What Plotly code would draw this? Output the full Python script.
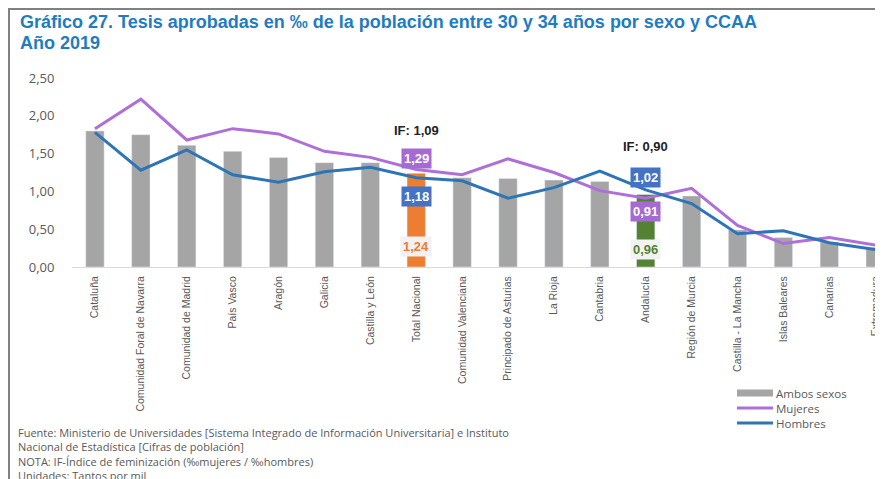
import plotly.graph_objects as go

regiones = [
    "Cataluña", "Comunidad Foral de Navarra", "Comunidad de Madrid", "País Vasco",
    "Aragón", "Galicia", "Castilla y León", "Total Nacional", "Comunidad Valenciana",
    "Principado de Asturias", "La Rioja", "Cantabria", "Andalucía", "Región de Murcia",
    "Castilla - La Mancha", "Islas Baleares", "Canarias", "Extremadura",
]
ambos = [1.80, 1.75, 1.61, 1.53, 1.45, 1.38, 1.38, 1.24, 1.18,
         1.17, 1.15, 1.13, 0.96, 0.94, 0.49, 0.39, 0.33, 0.26]
mujeres = [1.83, 2.22, 1.68, 1.83, 1.76, 1.53, 1.45, 1.29, 1.22,
           1.43, 1.25, 1.01, 0.91, 1.04, 0.55, 0.31, 0.39, 0.29]
hombres = [1.78, 1.28, 1.55, 1.22, 1.12, 1.26, 1.32, 1.18, 1.14,
           0.91, 1.05, 1.27, 1.02, 0.84, 0.44, 0.48, 0.32, 0.23]
# feminisation index shown over the highlighted bars
if_total = "IF: 1,09"
if_andalucia = "IF: 0,90"
notas = [
    "Fuente: Ministerio de Universidades [Sistema Integrado de Información Universitaria] e Instituto",
    "Nacional de Estadística [Cifras de población]",
    "NOTA: IF-Índice de feminización (‰mujeres / ‰hombres)",
    "Unidades: Tantos por mil",
]

GRAY = "#A5A5A5"
ORANGE = "#ED7D31"
GREEN = "#548235"
PURPLE = "#AE6FD8"
PURPLE_BOX = "#A66BD3"
BLUE = "#2E75B6"
BLUE_BOX = "#4472C4"
TEXT = "#595959"
TITLE = "#1F7CC1"
FONT = "Liberation Sans, Arial, sans-serif"
SOFT = "Open Sans, Liberation Sans, sans-serif"
NARROW = "Liberation Sans Narrow, Arial Narrow, sans-serif"

# the page adds an 8px body margin, so the figure is drawn 8px smaller and
# every layout position below is given in page pixels and shifted back
OFF = 8
W, H = 883 - OFF, 479 - OFF
PL, PR, PT, PB = 72, 883, 78, 267  # plot area in page pixels


def fx(p):
    return (p - PL) / (PR - PL)


def fy(p):
    return (PB - p) / (PB - PT)


bar_colors = [ORANGE if r == "Total Nacional" else GREEN if r == "Andalucía" else GRAY
              for r in regiones]

fig = go.Figure()
fig.add_trace(go.Bar(x=regiones, y=ambos, marker_color=bar_colors, width=0.4,
                     showlegend=False, name="Ambos sexos"))
fig.add_trace(go.Scatter(x=regiones, y=mujeres, mode="lines", name="Mujeres",
                         line={"color": PURPLE, "width": 3}, showlegend=False))
fig.add_trace(go.Scatter(x=regiones, y=hombres, mode="lines", name="Hombres",
                         line={"color": BLUE, "width": 3}, showlegend=False))


def fmt(v):
    return f"{v:.2f}".replace(".", ",")


def label(cat, y, text, color, bg):
    fig.add_annotation(x=cat, y=y, xref="x", yref="y", showarrow=False,
                       text=f"<b>{text}</b>",
                       font={"family": FONT, "size": 13, "color": color},
                       bgcolor=bg, borderpad=2)


i_tot = regiones.index("Total Nacional")
i_and = regiones.index("Andalucía")
label("Total Nacional", 1.80, if_total, "#222222", None)
label("Total Nacional", 1.44, fmt(mujeres[i_tot]), "white", PURPLE_BOX)
label("Total Nacional", 0.93, fmt(hombres[i_tot]), "white", BLUE_BOX)
label("Total Nacional", 0.265, fmt(ambos[i_tot]), ORANGE, "#F2F2F2")
label("Andalucía", 1.59, if_andalucia, "#222222", None)
label("Andalucía", 1.19, fmt(hombres[i_and]), "white", BLUE_BOX)
label("Andalucía", 0.73, fmt(mujeres[i_and]), "white", PURPLE_BOX)
label("Andalucía", 0.225, fmt(ambos[i_and]), GREEN, "#F2F2F2")

# title
fig.add_annotation(xref="paper", yref="paper", x=fx(18), y=fy(22), xanchor="left",
                   yanchor="middle", showarrow=False,
                   text="<b>Gráfico 27. Tesis aprobadas en ‰ de la población entre 30 y 34 años por sexo y CCAA</b>",
                   font={"family": FONT, "size": 18, "color": TITLE})
fig.add_annotation(xref="paper", yref="paper", x=fx(18), y=fy(43), xanchor="left",
                   yanchor="middle", showarrow=False, text="<b>Año 2019</b>",
                   font={"family": FONT, "size": 18, "color": TITLE})
# notes block (line height 1.3 * 11px ≈ 14.3px, as in the reference)
fig.add_annotation(xref="paper", yref="paper", x=fx(17), y=fy(424), xanchor="left",
                   yanchor="top", showarrow=False, align="left", borderpad=0,
                   text="<br>".join(notas),
                   font={"family": SOFT, "size": 11, "color": TEXT})

# legend drawn Excel-style: short line keys + labels
legend_items = [("Ambos sexos", GRAY, 7, 393), ("Mujeres", PURPLE, 3, 408), ("Hombres", BLUE, 3, 423)]
for name, col, w, yy in legend_items:
    fig.add_shape(type="line", xref="paper", yref="paper", x0=fx(737), x1=fx(773),
                  y0=fy(yy), y1=fy(yy), line={"color": col, "width": w})
    fig.add_annotation(xref="paper", yref="paper", x=fx(775), y=fy(yy), xanchor="left",
                       yanchor="middle", showarrow=False, text=name, borderpad=0,
                       font={"family": SOFT, "size": 11.5, "color": TEXT})

# frame lines at top and left
fig.add_shape(type="line", xref="paper", yref="paper", x0=fx(OFF), x1=fx(883),
              y0=fy(OFF + 1), y1=fy(OFF + 1), line={"color": "#808080", "width": 2})
fig.add_shape(type="line", xref="paper", yref="paper", x0=fx(OFF + 1), x1=fx(OFF + 1),
              y0=fy(OFF), y1=fy(479), line={"color": "#808080", "width": 2})

fig.update_layout(
    width=W, height=H, autosize=False,
    margin={"l": PL - OFF, "r": 883 - PR, "t": PT - OFF, "b": 479 - PB},
    paper_bgcolor="white", plot_bgcolor="white",
    separators=",.",
    font={"family": FONT, "color": TEXT},
    showlegend=False,
    xaxis={"range": [-0.5, 17.17], "showgrid": False, "tickangle": -90,
           "showline": True, "linecolor": "#D9D9D9", "linewidth": 1,
           "ticks": "outside", "ticklen": 4, "tickcolor": "rgba(0,0,0,0)",
           "tickfont": {"family": NARROW, "size": 10.5, "color": TEXT}},
    yaxis={"range": [0, 2.5], "dtick": 0.5, "tickformat": ".2f", "showgrid": False,
           "zeroline": False, "showline": False, "ticks": "outside", "ticklen": 14,
           "tickcolor": "rgba(0,0,0,0)",
           "tickfont": {"family": SOFT, "size": 13, "color": TEXT}},
)

fig.write_html("out.html")
